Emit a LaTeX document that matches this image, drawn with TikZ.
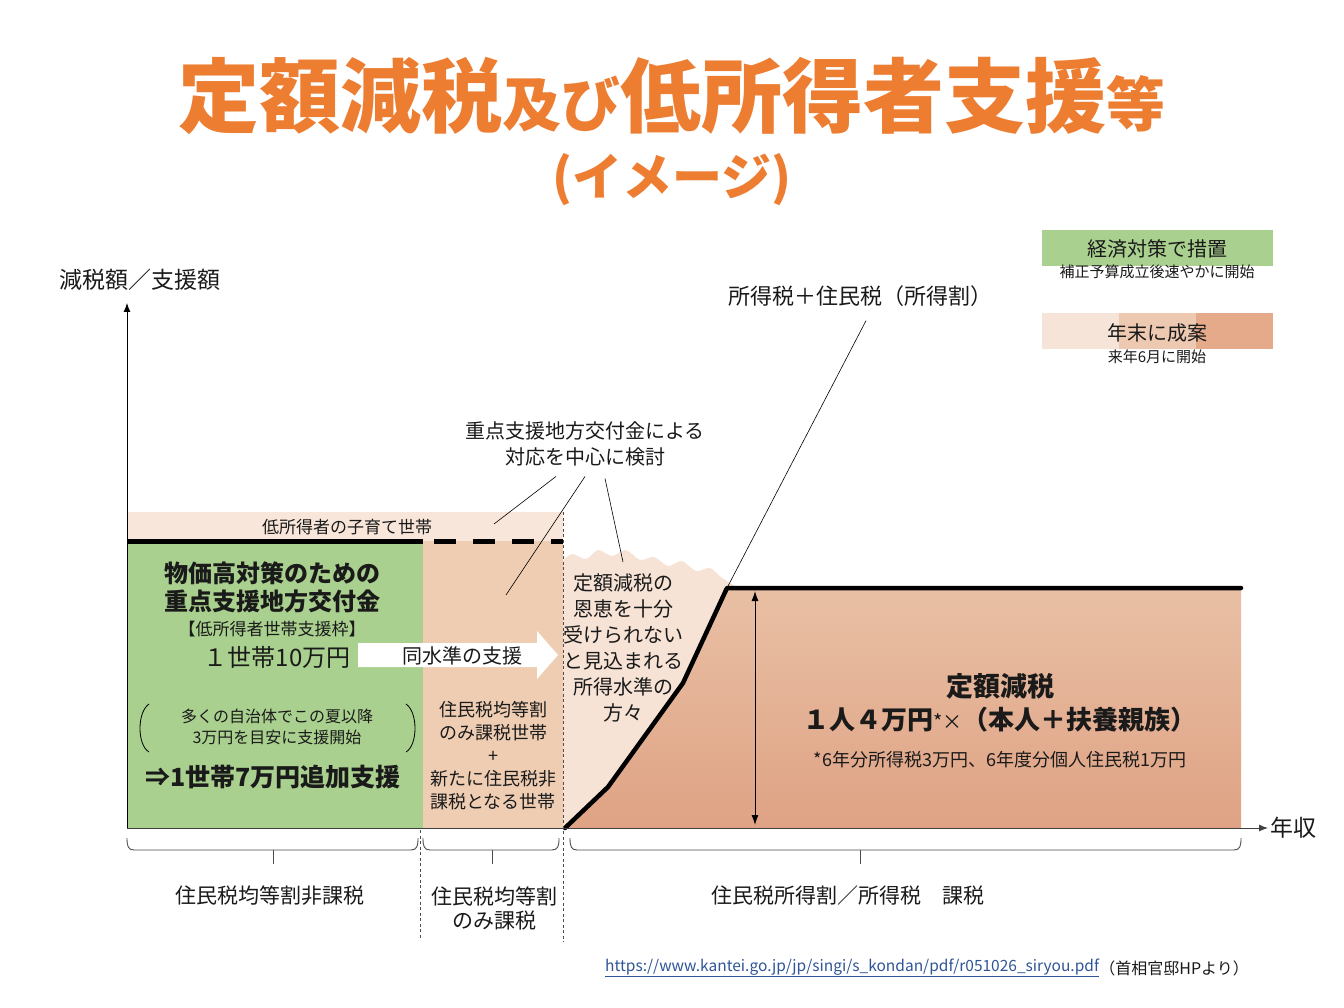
\documentclass[tikz,border=0pt]{standalone}
\usepackage{fontspec}
\setmainfont{Noto Sans CJK JP}
\usetikzlibrary{arrows.meta}
\definecolor{ttl}{HTML}{ED7D31}
\definecolor{grn}{HTML}{A9D08E}
\definecolor{tanc}{HTML}{EECDB3}
\definecolor{band}{HTML}{F8E6DA}
\definecolor{lite}{HTML}{F6E3D5}
\definecolor{orT}{HTML}{E9C0A5}
\definecolor{orB}{HTML}{DFA284}
\definecolor{lgA}{HTML}{F6E4D8}
\definecolor{lgB}{HTML}{EEC9B1}
\definecolor{lgC}{HTML}{E4AA8A}
\definecolor{urlc}{HTML}{2F5597}
\definecolor{txc}{HTML}{1A1A1A}
\newcommand{\fsz}[2]{\fontsize{#1}{#2}\selectfont}
\begin{document}
\begin{tikzpicture}[x=1pt,y=-1pt,
  txt/.style={inner sep=0pt, align=center, text=txc},
  brc/.style={draw=gray!60!black, line width=0.9pt},
  vdash/.style={draw=gray!60!black, line width=0.7pt, dash pattern=on 3pt off 2.5pt},
  thinl/.style={draw=black, line width=0.6pt},
  tip/.style={-{Latex[length=9pt,width=7pt]}}]
\useasboundingbox (0,0) rectangle (1344,1008);
\fill[white] (0,0) rectangle (1344,1008);

% title
\node[inner sep=0pt, anchor=base, text=ttl, font=\bfseries] (title) at (672,127)
  {\fsz{81}{90}定額減税\fsz{59}{64}及び\fsz{81}{90}低所得者支援\fsz{59}{64}等};
\node[inner sep=0pt, text=ttl, font=\bfseries\fsz{50}{56}] (sub) at (672,180) {(イメージ)};

% legend
\fill[grn] (1042,230) rectangle (1273,266);
\node[txt, font=\fsz{20}{22}] (lg1) at (1157,249) {経済対策で措置};
\node[txt, font=\fsz{15}{17}] (lg1b) at (1157,272) {補正予算成立後速やかに開始};
\fill[lgA] (1042,313) rectangle (1119,349);
\fill[lgB] (1119,313) rectangle (1196,349);
\fill[lgC] (1196,313) rectangle (1273,349);
\node[txt, font=\fsz{20}{22}] (lg2) at (1157,333) {年末に成案};
\node[txt, font=\fsz{15}{17}] (lg2b) at (1157,357) {来年6月に開始};

% regions
\fill[band] (127,512) rectangle (563,541);
\fill[grn] (127,541) rectangle (423,828);
\fill[tanc] (423,541) rectangle (563,828);
\fill[lite] (563,828) -- plot[smooth] coordinates {(563,561) (572,554) (586,559) (598,550) (612,556) (626,550) (640,560) (654,557) (668,566) (682,561) (696,571) (710,568) (722,578) (735,586)} -- (735,828) -- cycle;
\shade[top color=orT, bottom color=orB] (565,828) -- (608,787) -- (683,683) -- (727,588) -- (1241,588) -- (1241,828) -- cycle;

% thick lines
\draw[line width=5pt] (127,541) -- (423,541);
\draw[line width=5pt, dash pattern=on 22pt off 17pt, dash phase=28pt] (423,541) -- (563,541);
\draw[line width=4.5pt, line join=round, line cap=round] (565,828) -- (608,787) -- (683,683) -- (727,588) -- (1241,588);

% axes
\draw[tip, line width=0.9pt] (127,828) -- (127,303);
\draw[tip, line width=0.9pt, draw=gray!50!black] (127,828) -- (1268,828);
\node[txt, font=\fsz{23}{25}, anchor=west] (xl) at (1270,828) {年収};
\node[txt, font=\fsz{23}{25}] (yl) at (140,280) {減税額／支援額};

% dashed separators
\draw[vdash] (563,512) -- (563,942);
\draw[vdash] (420,830) -- (420,940);

% double arrow
\draw[{Latex[length=10pt,width=7pt]}-{Latex[length=10pt,width=7pt]}, line width=1pt] (755,591) -- (755,825);

% band text
\node[txt, font=\fsz{17}{19}] (kids) at (347,527) {低所得者の子育て世帯};

% green box texts
\node[txt, font=\bfseries\fsz{24}{28}] (g1) at (272,587) {物価高対策のための\\重点支援地方交付金};
\node[txt, font=\fsz{17}{19}] (g2) at (272,629) {【低所得者世帯支援枠】};
\node[txt, font=\fsz{24}{26}] (g3) at (277,657) {１世帯10万円};
\node[txt, font=\fsz{16}{21}] (g4) at (277,727) {多くの自治体でこの夏以降\\3万円を目安に支援開始};
\draw[line width=0.8pt] (149,704) .. controls (137,712) and (137,745) .. (149,752);
\draw[line width=0.8pt] (406,704) .. controls (418,712) and (418,745) .. (406,752);
\node[txt, font=\bfseries\fsz{25}{27}] (g5) at (273,777) {⇒1世帯7万円追加支援};

% white arrow
\fill[white] (358,643) -- (537,643) -- (537,631) -- (558,655) -- (537,679) -- (537,667) -- (358,667) -- cycle;
\node[txt, font=\fsz{20}{22}] (same) at (462,656) {同水準の支援};

% tan box text
\node[txt, font=\fsz{18}{23}] (t1) at (493,756) {住民税均等割\\のみ課税世帯\\+\\新たに住民税非\\課税となる世帯};

% light region text
\node[txt, font=\fsz{20}{26}] (l1) at (623,648) {定額減税の\\恩恵を十分\\受けられない\\と見込まれる\\所得水準の\\方々};

% orange region text
\node[txt, font=\bfseries\fsz{27}{30}] (o1) at (1000,686) {定額減税};
\node[txt, font=\bfseries\fsz{26}{30}] (o2) at (1000,720) {１人４万円{\mdseries\fsz{20}{22}*×}（本人＋扶養親族）};
\node[txt, font=\fsz{18}{20}] (o3) at (1000,760) {*6年分所得税3万円、6年度分個人住民税1万円};

% annotations
\node[txt, font=\fsz{20}{26}] (note) at (585,444) {重点支援地方交付金による\\対応を中心に検討};
\coordinate (a1) at (494,524);
\coordinate (a2) at (506,595);
\coordinate (a3) at (623,562);
\draw[thinl] ([xshift=-29pt,yshift=-10pt]note.south) -- (a1);
\draw[thinl] ([xshift=0pt,yshift=-10pt]note.south) -- (a2);
\draw[thinl] ([xshift=20pt,yshift=-12pt]note.south) -- (a3);
\node[txt, font=\fsz{22}{24}] (itx) at (860,296) {所得税＋住民税（所得割）};
\coordinate (a4) at (727,588);
\draw[thinl] ([xshift=6pt,yshift=-14pt]itx.south) -- (a4);

% braces
\draw[brc] (127,838) .. controls (127,846) and (128,850) .. (134,850) -- (411,850) .. controls (417,850) and (418,846) .. (418,838);
\draw[brc] (273,850) -- (273,864);
\draw[brc] (423,838) .. controls (423,846) and (424,850) .. (430,850) -- (552,850) .. controls (558,850) and (559,846) .. (559,838);
\draw[brc] (492,850) -- (492,864);
\draw[brc] (570,838) .. controls (570,846) and (571,850) .. (577,850) -- (1234,850) .. controls (1240,850) and (1241,846) .. (1241,838);
\draw[brc] (860,850) -- (860,864);

% bottom labels
\node[txt, font=\fsz{21}{24}] (b1) at (270,896) {住民税均等割非課税};
\node[txt, font=\fsz{21}{24}] (b2) at (494,908) {住民税均等割\\のみ課税};
\node[txt, font=\fsz{21}{24}] (b3) at (848,896) {住民税所得割／所得税　課税};

% source
\node[txt, font=\fsz{15.5}{17}, text=urlc, anchor=west] (url) at (605,968) {\underline{https://www.kantei.go.jp/jp/singi/s\_kondan/pdf/r051026\_siryou.pdf}};
\node[txt, font=\fsz{16}{18}, anchor=west] (src) at (url.east) {（首相官邸HPより）};
\end{tikzpicture}
\end{document}
